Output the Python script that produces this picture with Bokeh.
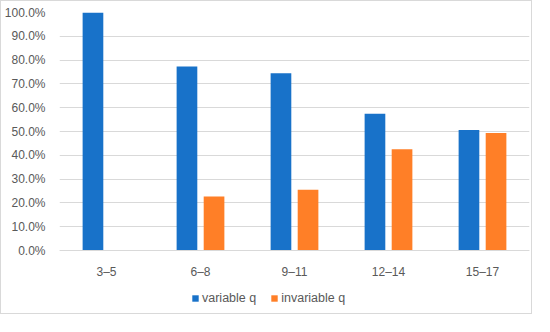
from bokeh.plotting import figure
from bokeh.models import ColumnDataSource, FactorRange, NumeralTickFormatter, Legend, LegendItem, Range1d
from bokeh.transform import dodge
from bokeh.embed import file_html
from bokeh.resources import INLINE

categories = ["3–5", "6–8", "9–11", "12–14", "15–17"]
variable_q = [1.000, 0.773, 0.745, 0.575, 0.506]
invariable_q = [0.000, 0.227, 0.255, 0.425, 0.494]
series_names = ["variable q", "invariable q"]
y_ticks = [0.0, 0.1, 0.2, 0.3, 0.4, 0.5, 0.6, 0.7, 0.8, 0.9, 1.0]

BLUE = "#1872C9"
ORANGE = "#FF7F27"
GRID = "#D9D9D9"
TEXT = "#595959"
FONT = "Liberation Sans"

src = ColumnDataSource(dict(cat=categories, v=variable_q, iv=invariable_q))

# frame extends below 0 to host category labels and legend (238 px per 100%)
p = figure(x_range=FactorRange(*categories), y_range=Range1d(-61 / 238, 1.0),
           width=532, height=314, output_backend="svg", toolbar_location=None,
           min_border_left=58, min_border_right=4, min_border_top=11, min_border_bottom=4)
p.styles = {"border": "1px solid #D9D9D9"}

r1 = p.vbar(x=dodge("cat", -0.144, range=p.x_range), top="v", width=0.22, source=src,
            fill_color=BLUE, line_color=None)
r2 = p.vbar(x=dodge("cat", 0.144, range=p.x_range), top="iv", width=0.22, source=src,
            fill_color=ORANGE, line_color=None)

p.outline_line_color = None
p.xgrid.grid_line_color = None
p.ygrid.grid_line_color = GRID
p.ygrid.ticker = y_ticks
p.yaxis.ticker = y_ticks
p.yaxis.formatter = NumeralTickFormatter(format="0.0%")
p.yaxis.axis_line_color = None
p.yaxis.major_tick_line_color = None
p.yaxis.minor_tick_line_color = None
p.xaxis.fixed_location = 0
p.xaxis.axis_line_color = GRID
p.xaxis.major_tick_line_color = None
p.xaxis.minor_tick_line_color = None
p.x_range.range_padding = 0
p.x_range.group_padding = 0
for ax in (p.xaxis, p.yaxis):
    ax.major_label_text_font = FONT
    ax.major_label_text_font_size = "12px"
    ax.major_label_text_color = TEXT
p.yaxis.major_label_standoff = 8
p.xaxis.major_label_standoff = 8

legend = Legend(items=[LegendItem(label=series_names[0], renderers=[r1]),
                       LegendItem(label=series_names[1], renderers=[r2])],
                orientation="horizontal", location=(132, 6),
                label_text_font=FONT, label_text_font_size="12.5px", label_text_color=TEXT,
                glyph_width=8, glyph_height=8, spacing=14, label_standoff=3,
                label_height=14,
                background_fill_alpha=0, border_line_color=None, padding=0, margin=0)
p.add_layout(legend, "center")

open("out.html", "w").write(file_html(p, INLINE))
